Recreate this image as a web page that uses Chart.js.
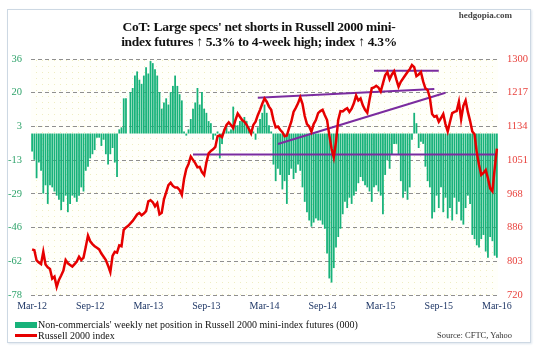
<!DOCTYPE html>
<html>
<head>
<meta charset="utf-8">
<script src="https://cdn.jsdelivr.net/npm/chart.js@4.4.1/dist/chart.umd.min.js"></script>
<style>
html, body { margin: 0; padding: 0; background: #fff; }
#wrap { position: relative; width: 538px; height: 352px; font-family: "Liberation Serif", "Times New Roman", serif; }
#frame { position: absolute; left: 7px; top: 9px; width: 522px; height: 332px; border: 1px solid #cdd8e3; box-shadow: 1px 1px 2px #dfe6ee; }
#c { position: absolute; left: 0; top: 0; }
#title { position: absolute; left: 0; width: 518px; top: 19px; text-align: center; font-weight: bold; font-size: 13.5px; line-height: 15px; letter-spacing: -0.3px; color: #111; }
#site { position: absolute; right: 26px; top: 10px; font-weight: bold; font-size: 9px; color: #444; }
#legend { position: absolute; left: 15px; top: 319px; font-size: 10px; color: #111; }
.item { height: 11px; display: flex; align-items: center; white-space: nowrap; }
.sw { width: 22px; margin-right: 1px; }
#src { position: absolute; right: 26px; top: 330px; font-size: 8.5px; color: #333; }
</style>
</head>
<body>
<div id="wrap">
  <div id="frame"></div>
  <canvas id="c" width="538" height="352"></canvas>
  <div id="site">hedgopia.com</div>
  <div id="title">CoT: Large specs' net shorts in Russell 2000 mini-<br>index futures &uarr; 5.3% to 4-week high; index &uarr; 4.3%</div>
  <div id="legend"></div>
  <div id="src">Source: CFTC, Yahoo</div>
</div>
<script>
var SERIF = "'Liberation Serif', 'Times New Roman', serif";

// tick labels
var xTicks = ["Mar-12","Sep-12","Mar-13","Sep-13","Mar-14","Sep-14","Mar-15","Sep-15","Mar-16"];
var leftTicks = ["-78","-62","-46","-29","-13","3","20","36"];
var rightTicks = ["720","803","886","968","1051","1134","1217","1300"];

// weekly net position of non-commercials (000), from Mar 2012
var netPosition = [
  -8.7,-12.7,-21.6,-14,-18,-29,-25,-34,-25,-26,
  -28,-30,-32,-37,-33,-30,-38,-34,-30,-31,
  -33,-30,-26,-28,-18,-16,-12,-10,-8,-2,
  -2,-6,-3,-10,-15,-10,-7,-14,-21,2,
  3,17,17,0,20,22,28,30,26,24,
  28,32,29,35,34,31,28,20,12,15,
  17,14,20,23,28,23,19,16,1,-1,
  2,7,12,15,22,14,20,12,10,6,
  5,-3,-1,1,-12,-5,2,3,1,2,
  13,4,4,6,7,8,6,3,2,1,
  -3,3,7,10,14,10,4,1,-15,-23,
  -17,-20,-27,-23,-34,-20,-17,-22,-19,-15,
  -18,-26,-33,-38,-42,-45,-43,-41,-42,-42,
  -44,-46,-58,-70,-72,-65,-55,-50,-46,-39,
  -33,-36,-31,-34,-30,-28,-24,-21,-23,-25,
  -26,-28,-33,-26,-25,-28,-30,-39,-20,-13,
  -17,-10,-5,-5,-10,-23,-31,-28,-32,-26,
  -3,10,5,-7,-4,-5,-16,-23,-26,-41,
  -38,-30,-36,-26,-38,-31,-41,-36,-42,-31,
  -39,-33,-42,-44,-36,-30,-34,-49,-51,-54,
  -55,-51,-49,-57,-60,-50,-52,-59,-60
];

// Russell 2000 index, weekly
var russell = [
  832,830,805,800,796,826,795,788,784,760,
  765,740,757,768,780,806,798,794,790,796,
  802,814,806,812,838,866,852,845,840,836,
  832,822,814,806,792,776,816,826,824,842,
  840,880,886,890,896,902,910,918,922,916,
  920,926,950,953,948,938,946,918,922,955,
  972,990,996,988,984,984,978,966,1005,1030,
  1042,1060,1052,1044,1034,1035,1022,1015,1046,1068,
  1074,1078,1084,1110,1112,1108,1125,1138,1144,1138,
  1130,1150,1166,1158,1150,1146,1138,1128,1117,1138,
  1146,1162,1175,1190,1203,1195,1183,1175,1150,1132,
  1134,1126,1120,1110,1112,1130,1146,1170,1180,1191,
  1206,1190,1160,1140,1134,1121,1140,1150,1167,1172,
  1175,1162,1150,1113,1080,1058,1097,1150,1172,1171,
  1176,1179,1170,1178,1191,1210,1198,1203,1186,1175,
  1168,1200,1228,1230,1234,1230,1220,1240,1260,1268,
  1250,1262,1270,1250,1232,1244,1252,1260,1268,1275,
  1285,1280,1258,1262,1268,1245,1228,1224,1205,1165,
  1158,1160,1146,1155,1165,1140,1122,1145,1167,1170,
  1172,1195,1152,1185,1198,1170,1148,1122,1115,1070,
  1040,1015,1020,1027,1007,982,975,1030,1080
];

// trend lines drawn on the index: [start week, start value, end week, end value]
var trendSupport = [72, 1065, 208, 1065];
var trendUpper = [101, 1205, 180, 1226];
var trendRising = [110, 1091, 185, 1217];
var trendTop = [153, 1271, 182, 1271];

// one category per week
var weeks = [];
var d = new Date(2012, 2, 6);
for (var i = 0; i < netPosition.length; i++) {
  weeks.push(d.toISOString().slice(0, 10));
  d.setDate(d.getDate() + 7);
}

function trend(t) {
  return {
    type: "line",
    yAxisID: "yR",
    data: [{x: weeks[t[0]], y: t[1]}, {x: weeks[t[2]], y: t[3]}],
    borderColor: "#7b2c9f",
    borderWidth: 2,
    pointRadius: 0,
    order: 2
  };
}

// dotted plot background
var plotBg = {
  id: "plotBg",
  beforeDraw: function(chart) {
    var a = chart.chartArea, ctx = chart.ctx;
    var p = document.createElement("canvas");
    p.width = 6; p.height = 6;
    var pc = p.getContext("2d");
    pc.fillStyle = "#fffffa"; pc.fillRect(0, 0, 6, 6);
    pc.fillStyle = "#efedc2"; pc.fillRect(0, 0, 1, 1);
    ctx.save();
    ctx.fillStyle = ctx.createPattern(p, "repeat");
    ctx.fillRect(a.left, a.top, a.right - a.left, a.bottom - a.top);
    ctx.restore();
  }
};

var chart = new Chart(document.getElementById("c").getContext("2d"), {
  type: "bar",
  data: {
    labels: weeks,
    datasets: [
      {
        label: "Non-commercials' weekly net position in Russell 2000 mini-index futures (000)",
        data: netPosition,
        yAxisID: "yL",
        backgroundColor: "#17b27a",
        barPercentage: 0.8,
        categoryPercentage: 1.0,
        order: 3
      },
      {
        type: "line",
        label: "Russell 2000 index",
        data: russell,
        yAxisID: "yR",
        borderColor: "#e60000",
        borderWidth: 2.5,
        pointRadius: 0,
        order: 1
      },
      trend(trendSupport),
      trend(trendUpper),
      trend(trendRising),
      trend(trendTop)
    ]
  },
  options: {
    responsive: false,
    animation: false,
    layout: { padding: { top: 59, left: 0, right: 0, bottom: 37 } },
    plugins: { legend: { display: false }, tooltip: { enabled: false } },
    scales: {
      x: {
        offset: true,
        grid: { display: false, drawTicks: false },
        border: { display: false },
        ticks: {
          autoSkip: false, maxRotation: 0, minRotation: 0, padding: 5,
          color: "#1f3766", font: { family: SERIF, size: 10 },
          callback: function(v, i) { return i % 26 === 0 ? xTicks[i / 26] : null; }
        },
        afterFit: function(s) { s.height = 20; }
      },
      yL: {
        position: "left", min: -78, max: 36,
        grid: { color: "#8f8f8f", drawTicks: false },
        border: { display: false, dash: [4, 3] },
        ticks: {
          count: 8, padding: 9, color: "#2fa36b", font: { family: SERIF, size: 10.5 },
          callback: function(v, i) { return leftTicks[i]; }
        },
        afterFit: function(s) { s.width = 31; }
      },
      yR: {
        position: "right", min: 720, max: 1300,
        grid: { display: false, drawTicks: false },
        border: { display: false },
        ticks: {
          count: 8, padding: 9, color: "#e8413c", font: { family: SERIF, size: 10.5 },
          callback: function(v, i) { return rightTicks[i]; }
        },
        afterFit: function(s) { s.width = 40; }
      }
    }
  },
  plugins: [plotBg]
});

// legend from the two main datasets
var leg = document.getElementById("legend");
[0, 1].forEach(function(k) {
  var ds = chart.data.datasets[k];
  var row = document.createElement("div");
  row.className = "item";
  var sw = document.createElement("div");
  sw.className = "sw";
  if (k === 0) { sw.style.height = "6px"; sw.style.background = ds.backgroundColor; }
  else { sw.style.height = "3px"; sw.style.background = ds.borderColor; }
  row.appendChild(sw);
  row.appendChild(document.createTextNode(ds.label));
  leg.appendChild(row);
});
</script>
</body>
</html>
